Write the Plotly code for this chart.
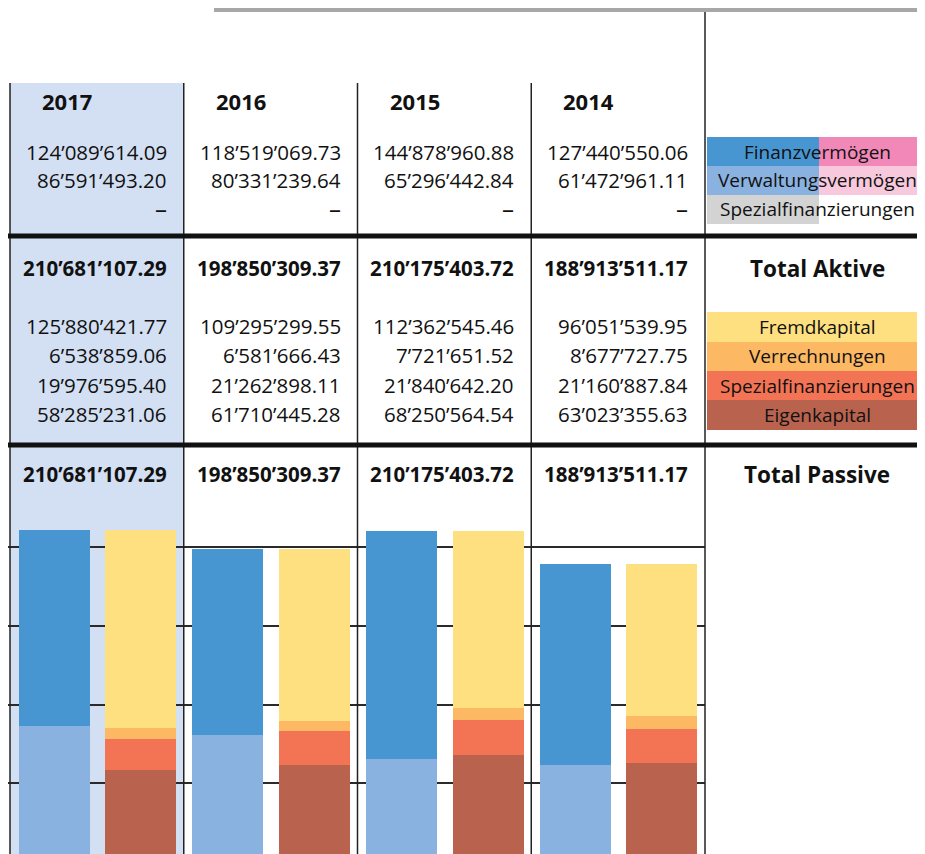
import plotly.graph_objects as go

# reference canvas (pixels); the page adds an 8px body margin, so the figure is shifted
REF_W, REF_H = 925, 854
OFF = 8
W, H = REF_W - OFF, REF_H - OFF

years = ["2017", "2016", "2015", "2014"]

# Aktive (CHF)
finanzvermoegen = [124089614.09, 118519069.73, 144878960.88, 127440550.06]
verwaltungsvermoegen = [86591493.20, 80331239.64, 65296442.84, 61472961.11]
spezial_aktiv = [0.0, 0.0, 0.0, 0.0]

# Passive (CHF)
fremdkapital = [125880421.77, 109295299.55, 112362545.46, 96051539.95]
verrechnungen = [6538859.06, 6581666.43, 7721651.52, 8677727.75]
spezial_passiv = [19976595.40, 21262898.11, 21840642.20, 21160887.84]
eigenkapital = [58285231.06, 61710445.28, 68250564.54, 63023355.63]

aktive_labels = ["Finanzvermögen", "Verwaltungsvermögen", "Spezialfinanzierungen"]
passive_labels = ["Fremdkapital", "Verrechnungen", "Spezialfinanzierungen", "Eigenkapital"]

C_FIN, C_FIN2 = "#4796d2", "#f188b8"
C_VER, C_VER2 = "#8ab2e0", "#f8c8dd"
C_SPA, C_SPA2 = "#d3d3d3", "#ffffff"
C_FRE = "#fee081"
C_VRR = "#fdb863"
C_SPP = "#f37455"
C_EIG = "#b9634f"
C_HIGH = "#d3e0f3"
FONT = "Open Sans, Noto Sans, sans-serif"

COL_W = 173.75
COL0 = 10
def col_left(i):
    return COL0 + COL_W * i

def px(x):
    return (x - OFF) / W

def py(y):
    return 1 - (y - OFF) / H

def fmt(v):
    if v == 0:
        return "–"
    return f"{v:,.2f}".replace(",", "’")

fig = go.Figure()

xa = [col_left(i) + 44 for i in range(len(years))]
xp = [col_left(i) + 130.5 for i in range(len(years))]
BW = 71

for vals, col, name in [(verwaltungsvermoegen, C_VER, aktive_labels[1]),
                        (finanzvermoegen, C_FIN, aktive_labels[0]),
                        (spezial_aktiv, C_SPA, aktive_labels[2])]:
    fig.add_trace(go.Bar(x=xa, y=vals, width=BW, marker=dict(color=col, line=dict(width=0)),
                         name=name, showlegend=False, hoverinfo="skip"))
for vals, col, name in [(eigenkapital, C_EIG, passive_labels[3]),
                        (spezial_passiv, C_SPP, passive_labels[2]),
                        (verrechnungen, C_VRR, passive_labels[1]),
                        (fremdkapital, C_FRE, passive_labels[0])]:
    fig.add_trace(go.Bar(x=xp, y=vals, width=BW, marker=dict(color=col, line=dict(width=0)),
                         name=name, showlegend=False, hoverinfo="skip"))

# scale: 1.575 px per million, zero at reference pixel 862
ZERO_PX = 862
PPM = 1.575 / 1e6
CH_TOP = 500
y_lo = (ZERO_PX - REF_H) / PPM
y_hi = (ZERO_PX - CH_TOP) / PPM

shapes = []
shapes.append(dict(type="rect", xref="paper", yref="paper", x0=px(col_left(0)), x1=px(col_left(1)),
                   y0=py(REF_H), y1=py(83), fillcolor=C_HIGH, line=dict(width=0), layer="below"))
shapes.append(dict(type="rect", xref="paper", yref="paper", x0=px(214), x1=px(925),
                   y0=py(12), y1=py(OFF), fillcolor="#a7a7a9", line=dict(width=0), layer="above"))
for i in range(4):
    shapes.append(dict(type="line", xref="paper", yref="paper", x0=px(col_left(i)), x1=px(col_left(i)),
                       y0=py(83), y1=py(REF_H), line=dict(color="#222", width=1.5)))
shapes.append(dict(type="line", xref="paper", yref="paper", x0=px(col_left(4)), x1=px(col_left(4)),
                   y0=py(12), y1=py(REF_H), line=dict(color="#222", width=1.5)))
for yy in [236, 445]:
    shapes.append(dict(type="line", xref="paper", yref="paper", x0=0, x1=1, y0=py(yy), y1=py(yy),
                       line=dict(color="#111", width=5)))

LX0, LXM, LX1 = 707, 819, 925
for (y0, y1), (c1, c2) in zip([(137, 166), (166, 195), (195, 224)],
                              [(C_FIN, C_FIN2), (C_VER, C_VER2), (C_SPA, C_SPA2)]):
    shapes.append(dict(type="rect", xref="paper", yref="paper", x0=px(LX0), x1=px(LXM),
                       y0=py(y1), y1=py(y0), fillcolor=c1, line=dict(width=0)))
    shapes.append(dict(type="rect", xref="paper", yref="paper", x0=px(LXM), x1=px(LX1),
                       y0=py(y1), y1=py(y0), fillcolor=c2, line=dict(width=0)))
for (y0, y1), c in zip([(312, 342), (342, 371), (371, 400), (400, 430)],
                       [C_FRE, C_VRR, C_SPP, C_EIG]):
    shapes.append(dict(type="rect", xref="paper", yref="paper", x0=px(LX0), x1=px(LX1),
                       y0=py(y1), y1=py(y0), fillcolor=c, line=dict(width=0)))

ann = []
def text(x, y, s, size=20.5, anchor="right", bold=False):
    ann.append(dict(xref="paper", yref="paper", x=px(x), y=py(y), text=(f"<b>{s}</b>" if bold else s),
                    showarrow=False, xanchor=anchor, yanchor="middle",
                    font=dict(family=FONT, size=size, color="#111")))

aktive_rows = [finanzvermoegen, verwaltungsvermoegen, spezial_aktiv]
passive_rows = [fremdkapital, verrechnungen, spezial_passiv, eigenkapital]
for i, yr in enumerate(years):
    cl = col_left(i)
    cr = cl + COL_W - 15
    text(cl + 30, 101, yr, size=22, anchor="left", bold=True)
    for vals, yy in zip(aktive_rows, [152, 180, 208]):
        text(cr, yy, fmt(vals[i]), size=(24 if vals[i] == 0 else 20.5))
    tot_a = round(sum(v[i] for v in aktive_rows), 2)
    text(cr, 268, fmt(tot_a), bold=True)
    for vals, yy in zip(passive_rows, [326, 355, 385, 414]):
        text(cr, yy, fmt(vals[i]))
    tot_p = round(sum(v[i] for v in passive_rows), 2)
    text(cr, 474, fmt(tot_p), bold=True)

LCX = 817
for lab, yy in zip(aktive_labels, [152, 180, 209]):
    text(LCX, yy, lab, size=19, anchor="center")
for lab, yy in zip(passive_labels, [327, 356, 386, 415]):
    text(LCX, yy, lab, size=19, anchor="center")
text(LCX, 268, "Total Aktive", size=22.5, anchor="center", bold=True)
text(LCX, 474, "Total Passive", size=22.5, anchor="center", bold=True)

fig.update_layout(
    width=W, height=H, margin=dict(l=0, r=0, t=0, b=0),
    paper_bgcolor="white", plot_bgcolor="rgba(0,0,0,0)",
    barmode="stack", bargap=0,
    shapes=shapes, annotations=ann,
    xaxis=dict(domain=[0, (705 - OFF) / W], range=[OFF, 705], visible=False, fixedrange=True),
    yaxis=dict(domain=[0, (REF_H - CH_TOP) / H], range=[y_lo, y_hi],
               tickvals=[50e6, 100e6, 150e6, 200e6], showticklabels=False,
               showgrid=True, gridcolor="#2a2a2a", gridwidth=1.5,
               zeroline=False, showline=False, ticks="", fixedrange=True),
    font=dict(family=FONT),
)

fig.write_html("out.html")
